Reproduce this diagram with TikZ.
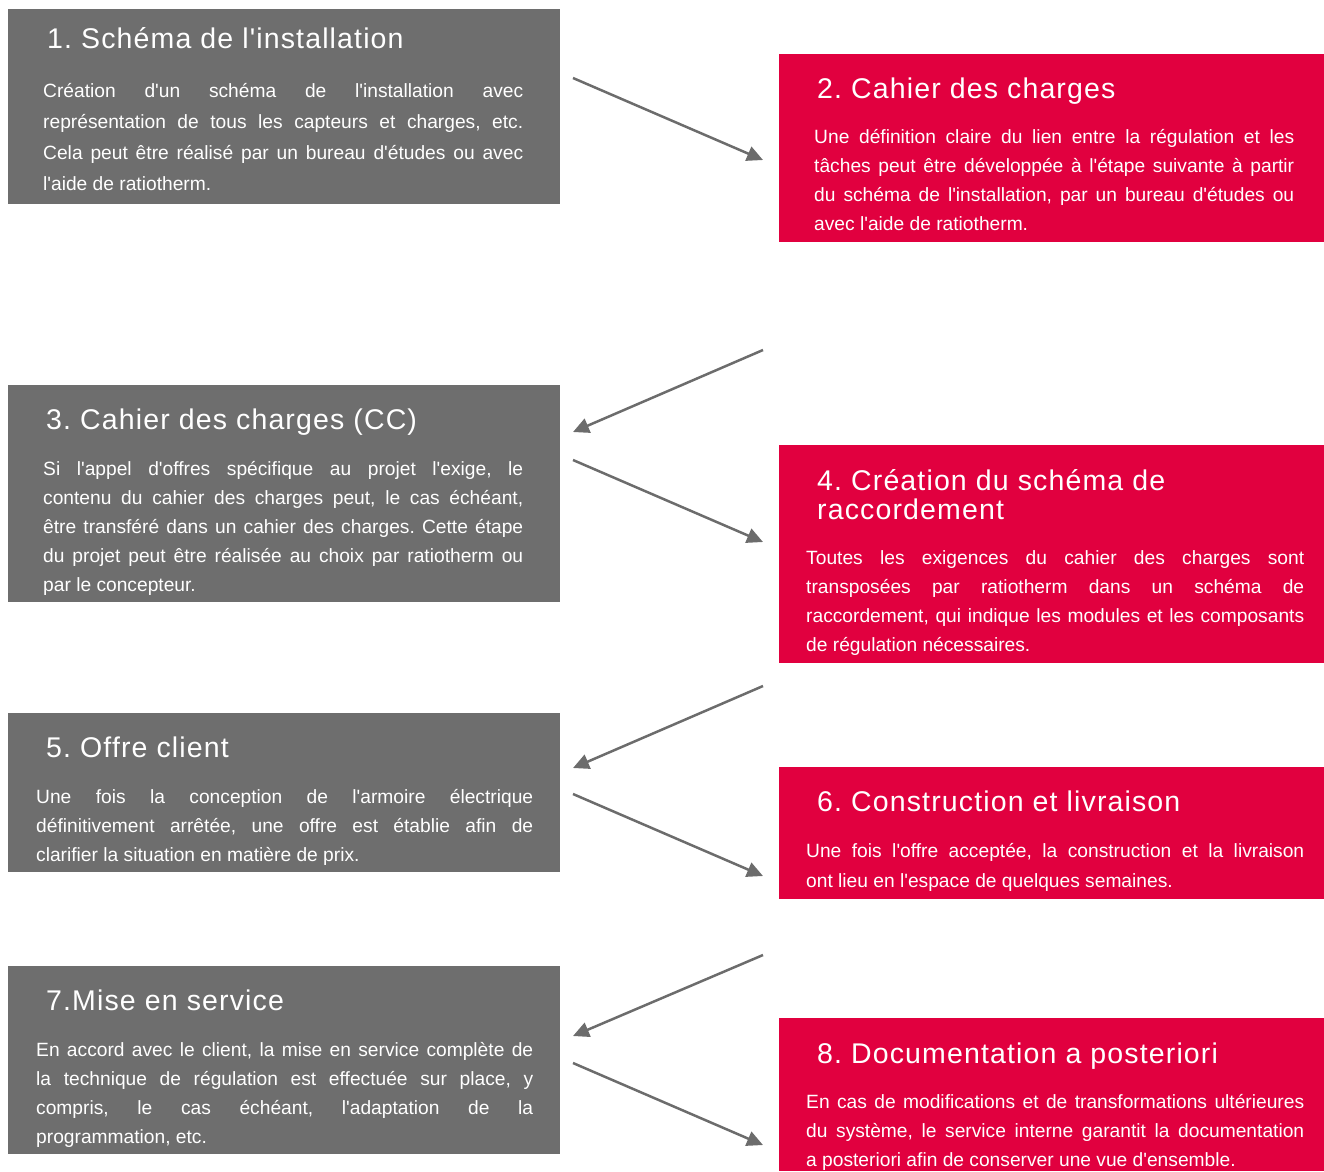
\documentclass[tikz,border=0pt]{standalone}
\usepackage{fontspec}
\setmainfont{Liberation Sans}[Ligatures=TeXOff]
\newfontfamily\headfont{Liberation Sans}[LetterSpace=4,Ligatures=TeXOff]
\usetikzlibrary{arrows.meta}
\frenchspacing
\definecolor{stepgray}{RGB}{110,110,110}
\definecolor{stepred}{RGB}{225,0,63}
\definecolor{arrowgray}{RGB}{108,108,108}
% body text: fixed size, no hyphens, any spacing allowed
\newcommand\bodyfont[1]{\fontsize{19.2}{#1}\selectfont\tolerance=10000 \hyphenpenalty=10000\relax}
\tikzstyle{gbox}=[rectangle, fill=stepgray, inner sep=0, anchor=north west]
\tikzstyle{rbox}=[rectangle, fill=stepred, inner sep=0, anchor=north west]
\tikzstyle{head}=[anchor=base west, inner sep=0, text=white, align=left, font=\headfont\fontsize{28.5}{29}\selectfont]
\tikzstyle{body}=[anchor=base west, inner sep=0, text=white, align=justify, font=\bodyfont{29}]
\tikzstyle{flow}=[line width=2.5pt, draw=arrowgray, -{Triangle[length=16pt,width=15pt]}]

\begin{document}
\begin{tikzpicture}[x=1pt, y=-1pt]
\useasboundingbox (0,0) rectangle (1324,1171);

% left column: grey steps
\node[gbox, minimum width=552pt, minimum height=195pt] (s1) at (8,9) {};
\node[gbox, minimum width=552pt, minimum height=217pt] (s3) at (8,385) {};
\node[gbox, minimum width=552pt, minimum height=159pt] (s5) at (8,713) {};
\node[gbox, minimum width=552pt, minimum height=188pt] (s7) at (8,966) {};

% right column: red steps
\node[rbox, minimum width=545pt, minimum height=188pt] (s2) at (779,54) {};
\node[rbox, minimum width=545pt, minimum height=218pt] (s4) at (779,445) {};
\node[rbox, minimum width=545pt, minimum height=132pt] (s6) at (779,767) {};
\node[rbox, minimum width=545pt, minimum height=153pt] (s8) at (779,1018) {};

% titles
\node[head] (h1) at (47,48) {1. Schéma de l'installation};
\node[head] (h2) at (817,98) {2. Cahier des charges};
\node[head] (h3) at (46,429) {3. Cahier des charges (CC)};
\node[head] (h4) at (817,519) {4. Création du schéma de\\raccordement};
\node[head] (h5) at (46,757) {5. Offre client};
\node[head] (h6) at (817,811) {6. Construction et livraison};
\node[head] (h7) at (46,1010) {7.Mise en service};
\node[head] (h8) at (817,1063) {8. Documentation a posteriori};

% texts
\node[body, text width=480pt, font=\bodyfont{31}] (p1) at (43,97) {Création d'un schéma de l'installation avec\linebreak représentation de tous les capteurs et charges, etc.\linebreak Cela peut être réalisé par un bureau d'études ou avec\linebreak l'aide de ratiotherm.};
\node[body, text width=480pt] (p2) at (814,143) {Une définition claire du lien entre la régulation et les\linebreak tâches peut être développée à l'étape suivante à partir\linebreak du schéma de l'installation, par un bureau d'études ou\linebreak avec l'aide de ratiotherm.};
\node[body, text width=480pt] (p3) at (43,475) {Si l'appel d'offres spécifique au projet l'exige, le\linebreak contenu du cahier des charges peut, le cas échéant,\linebreak être transféré dans un cahier des charges. Cette étape\linebreak du projet peut être réalisée au choix par ratiotherm ou\linebreak par le concepteur.};
\node[body, text width=498pt] (p4) at (806,564) {Toutes les exigences du cahier des charges sont\linebreak transposées par ratiotherm dans un schéma de\linebreak raccordement, qui indique les modules et les composants\linebreak de régulation nécessaires.};
\node[body, text width=497pt] (p5) at (36,803) {Une fois la conception de l'armoire électrique\linebreak définitivement arrêtée, une offre est établie afin de\linebreak clarifier la situation en matière de prix.};
\node[body, text width=498pt, font=\bodyfont{30}] (p6) at (806,857) {Une fois l'offre acceptée, la construction et la livraison\linebreak ont lieu en l'espace de quelques semaines.};
\node[body, text width=497pt] (p7) at (36,1056) {En accord avec le client, la mise en service complète de\linebreak la technique de régulation est effectuée sur place, y\linebreak compris, le cas échéant, l'adaptation de la\linebreak programmation, etc.};
\node[body, text width=498pt] (p8) at (806,1108) {En cas de modifications et de transformations ultérieures\linebreak du système, le service interne garantit la documentation\linebreak a posteriori afin de conserver une vue d'ensemble.};

% arrow ends
\coordinate (o1) at (573,78);   \coordinate (i2) at (763,160);
\coordinate (o2) at (763,350);  \coordinate (i3) at (573,432);
\coordinate (o3) at (573,460);  \coordinate (i4) at (763,542);
\coordinate (o4) at (763,686);  \coordinate (i5) at (573,768);
\coordinate (o5) at (573,794);  \coordinate (i6) at (763,876);
\coordinate (o6) at (763,955);  \coordinate (i7) at (573,1036);
\coordinate (o7) at (573,1063); \coordinate (i8) at (763,1145);

\draw[flow] (o1) -- (i2);
\draw[flow] (o2) -- (i3);
\draw[flow] (o3) -- (i4);
\draw[flow] (o4) -- (i5);
\draw[flow] (o5) -- (i6);
\draw[flow] (o6) -- (i7);
\draw[flow] (o7) -- (i8);

\end{tikzpicture}
\end{document}
